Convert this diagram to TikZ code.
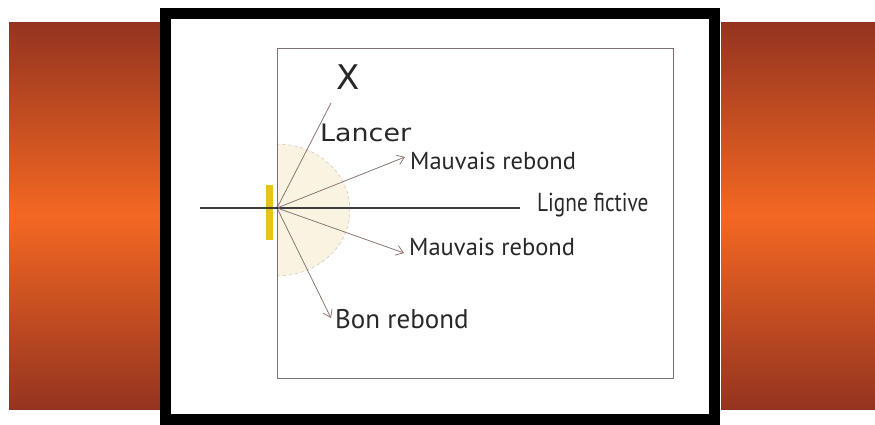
\documentclass[tikz,border=0pt]{standalone}
\usepackage{fontspec}
\setmainfont{PT Sans}
\newfontfamily\widefont{DejaVu Sans}
\usetikzlibrary{positioning,arrows.meta}
\definecolor{rust}{RGB}{148,52,32}
\definecolor{flame}{RGB}{244,103,34}
\definecolor{cream}{RGB}{249,243,226}
\definecolor{arc}{RGB}{205,190,175}
\definecolor{ray}{RGB}{140,118,112}
\definecolor{field}{RGB}{125,112,112}
\definecolor{ink}{RGB}{40,40,40}
\definecolor{post}{RGB}{232,195,28}
\tikzset{
  band/.style={top color=rust, bottom color=rust, middle color=flame},
  lbl/.style={anchor=base west, inner sep=0pt, text=ink, font=\fontsize{24.5}{26}\selectfont},
  rebond/.style={-{Straight Barb[length=7pt,width=10pt]}, draw=ray, line width=0.8pt},
}
\begin{document}
\begin{tikzpicture}[x=1pt,y=-1pt]
  \useasboundingbox (0,0) rectangle (875,425);
  % orange side bands
  \shade[band] (9,23) rectangle (160,409);
  \shade[band] (721,23) rectangle (875,409);
  % black frame
  \draw[line width=11pt] (165.5,13.5) rectangle (714,419);
  % playing field
  \fill[cream] (277,276) arc[start angle=90, end angle=-90, x radius=73, y radius=66] -- cycle;
  \draw[arc, dashed, line width=0.5pt] (277,276) arc[start angle=90, end angle=-90, x radius=73, y radius=66];
  \draw[field, line width=0.8pt] (277,48) rectangle (673,378);
  \fill[post] (266,185) rectangle (273,240);

  \coordinate (O) at (277,208);
  \coordinate (L0) at (200,208);
  \coordinate (L1) at (520,208);
  \coordinate (T) at (331,103);

  \node[text=ink, font=\widefont\fontsize{34}{34}\selectfont, inner sep=0pt] (X) at (348,77) {X};
  \node[lbl, font=\widefont\fontsize{24}{26}\selectfont, xscale=1.12] (lancer) at (320,142) {Lancer};
  \node[lbl] (mr1) at (410,169) {Mauvais rebond};
  \node[lbl, font=\fontsize{26}{28}\selectfont, xscale=0.82] (lf) at (537,211) {Ligne fictive};
  \node[lbl] (mr2) at (409,255) {Mauvais rebond};
  \node[lbl, font=\fontsize{27}{28}\selectfont] (br) at (335,328) {Bon rebond};

  \draw[ink!90, line width=1.6pt] (L0) -- (L1);
  \draw[ray, line width=0.8pt] (O) -- (T);
  \draw[rebond] (O) -- (405,157);
  \draw[rebond] (O) -- (404,253);
  \draw[rebond] (O) -- (331,318);
  \fill[ink] (O) circle (1.5);
\end{tikzpicture}
\end{document}
